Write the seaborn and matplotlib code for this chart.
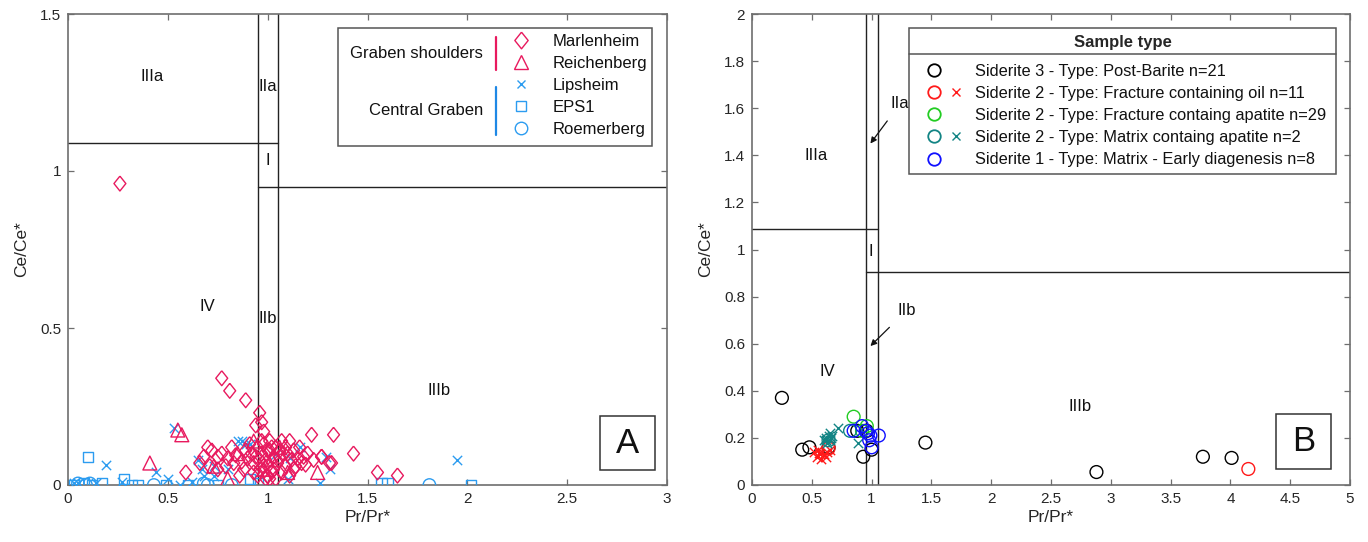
import numpy as np
import pandas as pd
import seaborn as sns
import matplotlib.pyplot as plt
from matplotlib.lines import Line2D
from matplotlib.patches import Rectangle
from matplotlib.legend_handler import HandlerTuple
from matplotlib.ticker import FuncFormatter

# ---- panel A data (Pr/Pr*, Ce/Ce*) ----
marl_x = [0.26, 0.77, 0.81, 0.89, 0.96, 0.94, 1.22, 1.33, 1.43, 0.59,
          1.55, 1.65, 1.27, 1.32, 0.70, 0.72, 0.75, 0.68, 0.66, 0.80,
          0.84, 0.83, 0.87, 0.90, 0.92, 0.95, 0.96, 0.98, 1.00, 1.01,
          1.03, 1.05, 1.07, 1.09, 1.11, 1.13, 1.15, 1.17, 1.19, 1.13,
          1.11, 1.27, 1.31, 0.88, 0.93, 0.79, 0.75, 0.86, 1.00, 1.03,
          1.06, 1.20, 0.97, 0.98, 1.02, 0.91, 1.08, 1.14, 0.99, 0.94,
          0.96, 0.99, 1.01, 1.04, 0.97, 1.00, 1.02, 1.06, 1.09, 1.12,
          0.93, 0.95, 0.98, 1.04, 1.07, 1.10, 1.16, 1.18, 0.89, 0.82,
          0.77, 0.71, 1.23, 1.01, 0.97]
marl_y = [0.96, 0.34, 0.30, 0.27, 0.23, 0.19, 0.16, 0.16, 0.10, 0.04,
          0.04, 0.03, 0.09, 0.07, 0.12, 0.11, 0.09, 0.09, 0.07, 0.085,
          0.095, 0.07, 0.075, 0.085, 0.10, 0.12, 0.08, 0.06, 0.03, 0.14,
          0.09, 0.07, 0.14, 0.12, 0.14, 0.11, 0.085, 0.07, 0.065, 0.05,
          0.03, 0.09, 0.07, 0.05, 0.04, 0.06, 0.05, 0.03, 0.11, 0.05,
          0.11, 0.10, 0.20, 0.17, 0.12, 0.13, 0.10, 0.06, 0.02, 0.09,
          0.05, 0.08, 0.11, 0.12, 0.10, 0.06, 0.04, 0.09, 0.06, 0.08,
          0.07, 0.03, 0.13, 0.02, 0.04, 0.10, 0.12, 0.09, 0.11, 0.12,
          0.10, 0.06, 0.08, 0.02, 0.14]
reich_x = [0.55, 0.57, 0.41, 1.25, 0.93, 0.85, 0.73, 0.98, 1.02, 1.10, 0.80, 1.06]
reich_y = [0.175, 0.16, 0.07, 0.04, 0.14, 0.10, 0.06, 0.05, 0.08, 0.04, 0.02, 0.12]
lips_x = [0.53, 0.19, 0.44, 1.16, 1.11, 1.29, 1.31, 1.26, 1.10, 1.95,
          0.87, 0.89, 0.65, 0.67, 0.73, 0.68, 0.03, 0.05, 0.14, 0.27,
          0.50, 0.56, 0.62, 0.73, 0.80, 0.91, 0.85, 1.04]
lips_y = [0.18, 0.065, 0.04, 0.12, 0.085, 0.09, 0.05, 0.005, 0.02, 0.08,
          0.14, 0.13, 0.08, 0.05, 0.06, 0.03, 0.005, 0.005, 0.005, 0.01,
          0.02, 0.0, 0.01, 0.03, 0.05, 0.13, 0.14, 0.10]
eps_x = [0.10, 0.03, 0.08, 0.17, 0.28, 0.32, 0.35, 0.49, 0.60, 0.75, 0.91, 0.95, 1.57, 1.60, 2.02, 0.12]
eps_y = [0.09, 0.0, 0.005, 0.005, 0.02, 0.0, 0.0, 0.0, 0.0, 0.0, 0.02, 0.005, 0.005, 0.007, 0.0, 0.0]
roem_x = [0.05, 0.09, 0.11, 0.43, 0.68, 0.70, 0.82, 1.81]
roem_y = [0.005, 0.0, 0.005, 0.0, 0.005, 0.0, 0.0, 0.0]

# ---- panel B data ----
sid3_x = [0.25, 0.42, 0.48, 0.64, 0.88, 0.93, 0.96, 1.00, 1.45, 2.88, 3.77, 4.01]
sid3_y = [0.37, 0.15, 0.16, 0.16, 0.23, 0.12, 0.23, 0.15, 0.18, 0.055, 0.12, 0.115]
oil_o_x = [4.15, 0.64]
oil_o_y = [0.068, 0.155]
oil_x_x = [0.52, 0.54, 0.55, 0.57, 0.58, 0.60, 0.62, 0.63, 0.56, 0.65]
oil_x_y = [0.14, 0.12, 0.15, 0.13, 0.11, 0.13, 0.12, 0.14, 0.135, 0.15]
frac_x = [0.85, 0.96, 0.92]
frac_y = [0.29, 0.25, 0.23]
mat_o_x = [0.64, 0.82]
mat_o_y = [0.19, 0.23]
mat_x_x = [0.60, 0.62, 0.63, 0.64, 0.65, 0.66, 0.67, 0.62, 0.65, 0.72, 0.89]
mat_x_y = [0.19, 0.20, 0.18, 0.21, 0.19, 0.20, 0.21, 0.19, 0.22, 0.24, 0.18]
early_x = [0.92, 0.95, 0.99, 0.98, 1.00, 1.06, 0.85, 0.97]
early_y = [0.25, 0.23, 0.21, 0.19, 0.16, 0.21, 0.23, 0.22]

legend_a = ['Marlenheim', 'Reichenberg', 'Lipsheim', 'EPS1', 'Roemerberg']
legend_b = ['Siderite 3 - Type: Post-Barite n=21',
            'Siderite 2 - Type: Fracture containing oil n=11',
            'Siderite 2 - Type: Fracture containg apatite n=29',
            'Siderite 2 - Type: Matrix containg apatite n=2',
            'Siderite 1 - Type: Matrix - Early diagenesis n=8']

PINK = '#e8195e'
SKY = '#2c9cf0'
BAR_BLUE = '#1e88e5'
RED = '#ff1a1a'
GREEN = '#22cc22'
TEAL = '#128484'
BLUE = '#1010ff'
LINE = '#222222'
SPINE = '#6e6e6e'
DIAMOND = [(0, 1), (0.8, 0), (0, -1), (-0.8, 0), (0, 1)]

sns.set_theme(style='white')
plt.rcParams['font.family'] = ['Liberation Sans', 'DejaVu Sans']

fig = plt.figure(figsize=(13.68, 5.42), dpi=100)
ax1 = fig.add_axes([68 / 1368, 57 / 542, 599 / 1368, 471 / 542])
ax2 = fig.add_axes([752 / 1368, 57 / 542, 598 / 1368, 471 / 542])


def pts(ax, x, y, marker, color, s, lw=1.0, hollow=True):
    df = pd.DataFrame({'x': x, 'y': y})
    kw = dict(facecolors='none', edgecolor=color) if hollow else {}
    sns.scatterplot(data=df, x='x', y='y', marker=marker, color=color, s=s,
                    linewidth=lw, ax=ax, legend=False, zorder=3, **kw)


def style_axes(ax, xmax, ymax, xstep, ystep):
    ax.set_xlim(0, xmax)
    ax.set_ylim(0, ymax)
    ax.set_xticks(np.arange(0, xmax + 1e-9, xstep))
    ax.set_yticks(np.arange(0, ymax + 1e-9, ystep))
    fmt = FuncFormatter(lambda v, p: f'{v:g}')
    ax.xaxis.set_major_formatter(fmt)
    ax.yaxis.set_major_formatter(fmt)
    ax.tick_params(direction='in', length=4, width=0.9, color=SPINE,
                   labelsize=11, labelcolor='#262626',
                   top=True, right=True, bottom=True, left=True, pad=5)
    for sp in ax.spines.values():
        sp.set_color(SPINE)
        sp.set_linewidth(1.2)
    ax.set_xlabel('Pr/Pr*', fontsize=12.5, color='#262626', labelpad=3)
    ax.set_ylabel('Ce/Ce*', fontsize=12.5, color='#262626', labelpad=8)


# ---------------- panel A ----------------
style_axes(ax1, 3, 1.5, 0.5, 0.5)
ax1.plot([0.95, 0.95], [0, 1.5], color=LINE, lw=1, zorder=2)
ax1.plot([1.05, 1.05], [0, 1.5], color=LINE, lw=1, zorder=2)
ax1.plot([0, 1.05], [1.089, 1.089], color=LINE, lw=1, zorder=2)
ax1.plot([0.95, 3], [0.949, 0.949], color=LINE, lw=1, zorder=2)

pts(ax1, eps_x, eps_y, 's', SKY, 55)
pts(ax1, roem_x, roem_y, 'o', SKY, 80)
pts(ax1, lips_x, lips_y, 'x', SKY, 45, hollow=False)
pts(ax1, marl_x, marl_y, DIAMOND, PINK, 115)
pts(ax1, reich_x, reich_y, '^', PINK, 100)

for t, x, y in [('IIIa', 0.42, 1.30), ('IIa', 1.0, 1.27), ('I', 1.0, 1.035),
                ('IV', 0.70, 0.57), ('IIb', 1.0, 0.53), ('IIIb', 1.86, 0.30)]:
    ax1.text(x, y, t, ha='center', va='center', fontsize=12, color='#111111')

ax1.add_patch(Rectangle((0.888, 0.032), 0.092, 0.114, transform=ax1.transAxes,
                        fill=False, ec='#333333', lw=1.1, zorder=4))
ax1.text(0.934, 0.089, 'A', transform=ax1.transAxes, ha='center', va='center',
         fontsize=25, color='#111111', zorder=5)

# grouped legend
ax1.add_patch(Rectangle((0.451, 0.720), 0.524, 0.250, transform=ax1.transAxes,
                        fc='white', ec='#555555', lw=1.1, zorder=6))
h_a = [Line2D([], [], ls='none', marker=DIAMOND, ms=12, mfc='none', mec=PINK, mew=1),
       Line2D([], [], ls='none', marker='^', ms=10, mfc='none', mec=PINK, mew=1),
       Line2D([], [], ls='none', marker='x', ms=6, mec=SKY, mew=1),
       Line2D([], [], ls='none', marker='s', ms=6.5, mfc='none', mec=SKY, mew=1),
       Line2D([], [], ls='none', marker='o', ms=9, mfc='none', mec=SKY, mew=1)]
leg_a = ax1.legend(h_a, legend_a, loc='upper left', bbox_to_anchor=(0.736, 0.9575),
                   bbox_transform=ax1.transAxes, frameon=False, fontsize=12,
                   borderpad=0, borderaxespad=0, handlelength=1.4,
                   handletextpad=1.2, labelspacing=0.42)
leg_a.set_zorder(7)
for t in leg_a.get_texts():
    t.set_color('#111111')
ax1.text(0.693, 0.917, 'Graben shoulders', transform=ax1.transAxes, ha='right',
         va='center', fontsize=12, color='#111111', zorder=7)
ax1.text(0.693, 0.796, 'Central Graben', transform=ax1.transAxes, ha='right',
         va='center', fontsize=12, color='#111111', zorder=7)
ax1.plot([0.715, 0.715], [0.952, 0.881], transform=ax1.transAxes, color=PINK,
         lw=1.6, zorder=7)
ax1.plot([0.715, 0.715], [0.845, 0.743], transform=ax1.transAxes, color=BAR_BLUE,
         lw=1.6, zorder=7)

# ---------------- panel B ----------------
style_axes(ax2, 5, 2, 0.5, 0.2)
ax2.plot([0.95, 0.95], [0, 2], color=LINE, lw=1, zorder=2)
ax2.plot([1.05, 1.05], [0, 2], color=LINE, lw=1, zorder=2)
ax2.plot([0, 1.05], [1.087, 1.087], color=LINE, lw=1, zorder=2)
ax2.plot([0.95, 5], [0.905, 0.905], color=LINE, lw=1, zorder=2)

pts(ax2, sid3_x, sid3_y, 'o', 'black', 85)
pts(ax2, oil_o_x, oil_o_y, 'o', RED, 85)
pts(ax2, oil_x_x, oil_x_y, 'x', RED, 45, hollow=False)
pts(ax2, frac_x, frac_y, 'o', GREEN, 85)
pts(ax2, mat_o_x, mat_o_y, 'o', TEAL, 85)
pts(ax2, mat_x_x, mat_x_y, 'x', TEAL, 45, hollow=False)
pts(ax2, early_x, early_y, 'o', BLUE, 85)

for t, x, y in [('IIIa', 0.54, 1.40), ('I', 0.99, 0.99), ('IV', 0.63, 0.48),
                ('IIIb', 2.74, 0.335)]:
    ax2.text(x, y, t, ha='center', va='center', fontsize=12, color='#111111')
ax2.annotate('IIa', xy=(0.99, 1.45), xytext=(1.24, 1.62), ha='center', va='center',
             fontsize=12, color='#111111',
             arrowprops=dict(arrowstyle='-|>', color='#111111', lw=0.9,
                             shrinkA=6, shrinkB=0, mutation_scale=9))
ax2.annotate('IIb', xy=(0.99, 0.59), xytext=(1.29, 0.74), ha='center', va='center',
             fontsize=12, color='#111111',
             arrowprops=dict(arrowstyle='-|>', color='#111111', lw=0.9,
                             shrinkA=6, shrinkB=0, mutation_scale=9))

ax2.add_patch(Rectangle((0.876, 0.034), 0.092, 0.117, transform=ax2.transAxes,
                        fill=False, ec='#333333', lw=1.1, zorder=4))
ax2.text(0.922, 0.092, 'B', transform=ax2.transAxes, ha='center', va='center',
         fontsize=25, color='#111111', zorder=5)

blank = Line2D([], [], ls='none', marker=None)
def circ(c):
    return Line2D([], [], ls='none', marker='o', ms=9, mfc='none', mec=c, mew=1.3)
def cross(c):
    return Line2D([], [], ls='none', marker='x', ms=6, mec=c, mew=1)
h_b = [(circ('black'), blank), (circ(RED), cross(RED)), (circ(GREEN), blank),
       (circ(TEAL), cross(TEAL)), (circ(BLUE), blank)]
leg_b = ax2.legend(h_b, legend_b, loc='upper left',
                   bbox_to_anchor=(0.2625, 0.6645, 0.7145, 0.3055),
                   bbox_transform=ax2.transAxes, mode='expand',
                   handler_map={tuple: HandlerTuple(ndivide=None, pad=-0.9)},
                   title='Sample type', fontsize=11.8, borderpad=0.4,
                   borderaxespad=0, handlelength=3.6, handletextpad=0.05,
                   labelspacing=0.44, fancybox=False, framealpha=1,
                   edgecolor='#555555')
leg_b.get_title().set_fontweight('bold')
leg_b.get_title().set_fontsize(12)
leg_b.get_frame().set_linewidth(1.1)
leg_b._legend_box.sep = 10
for t in leg_b.get_texts():
    t.set_color('#111111')

fig.canvas.draw()
r = fig.canvas.get_renderer()
lb = leg_b.get_window_extent(r)
tb = leg_b.get_title().get_window_extent(r)
ysep = tb.y0 - 4
p0 = fig.transFigure.inverted().transform((lb.x0, ysep))
p1 = fig.transFigure.inverted().transform((lb.x1, ysep))
fig.add_artist(Line2D([p0[0], p1[0]], [p0[1], p1[1]], transform=fig.transFigure,
                      color='#555555', lw=1.1, zorder=10))

fig.savefig('out.png', dpi=100)
plt.close(fig)
